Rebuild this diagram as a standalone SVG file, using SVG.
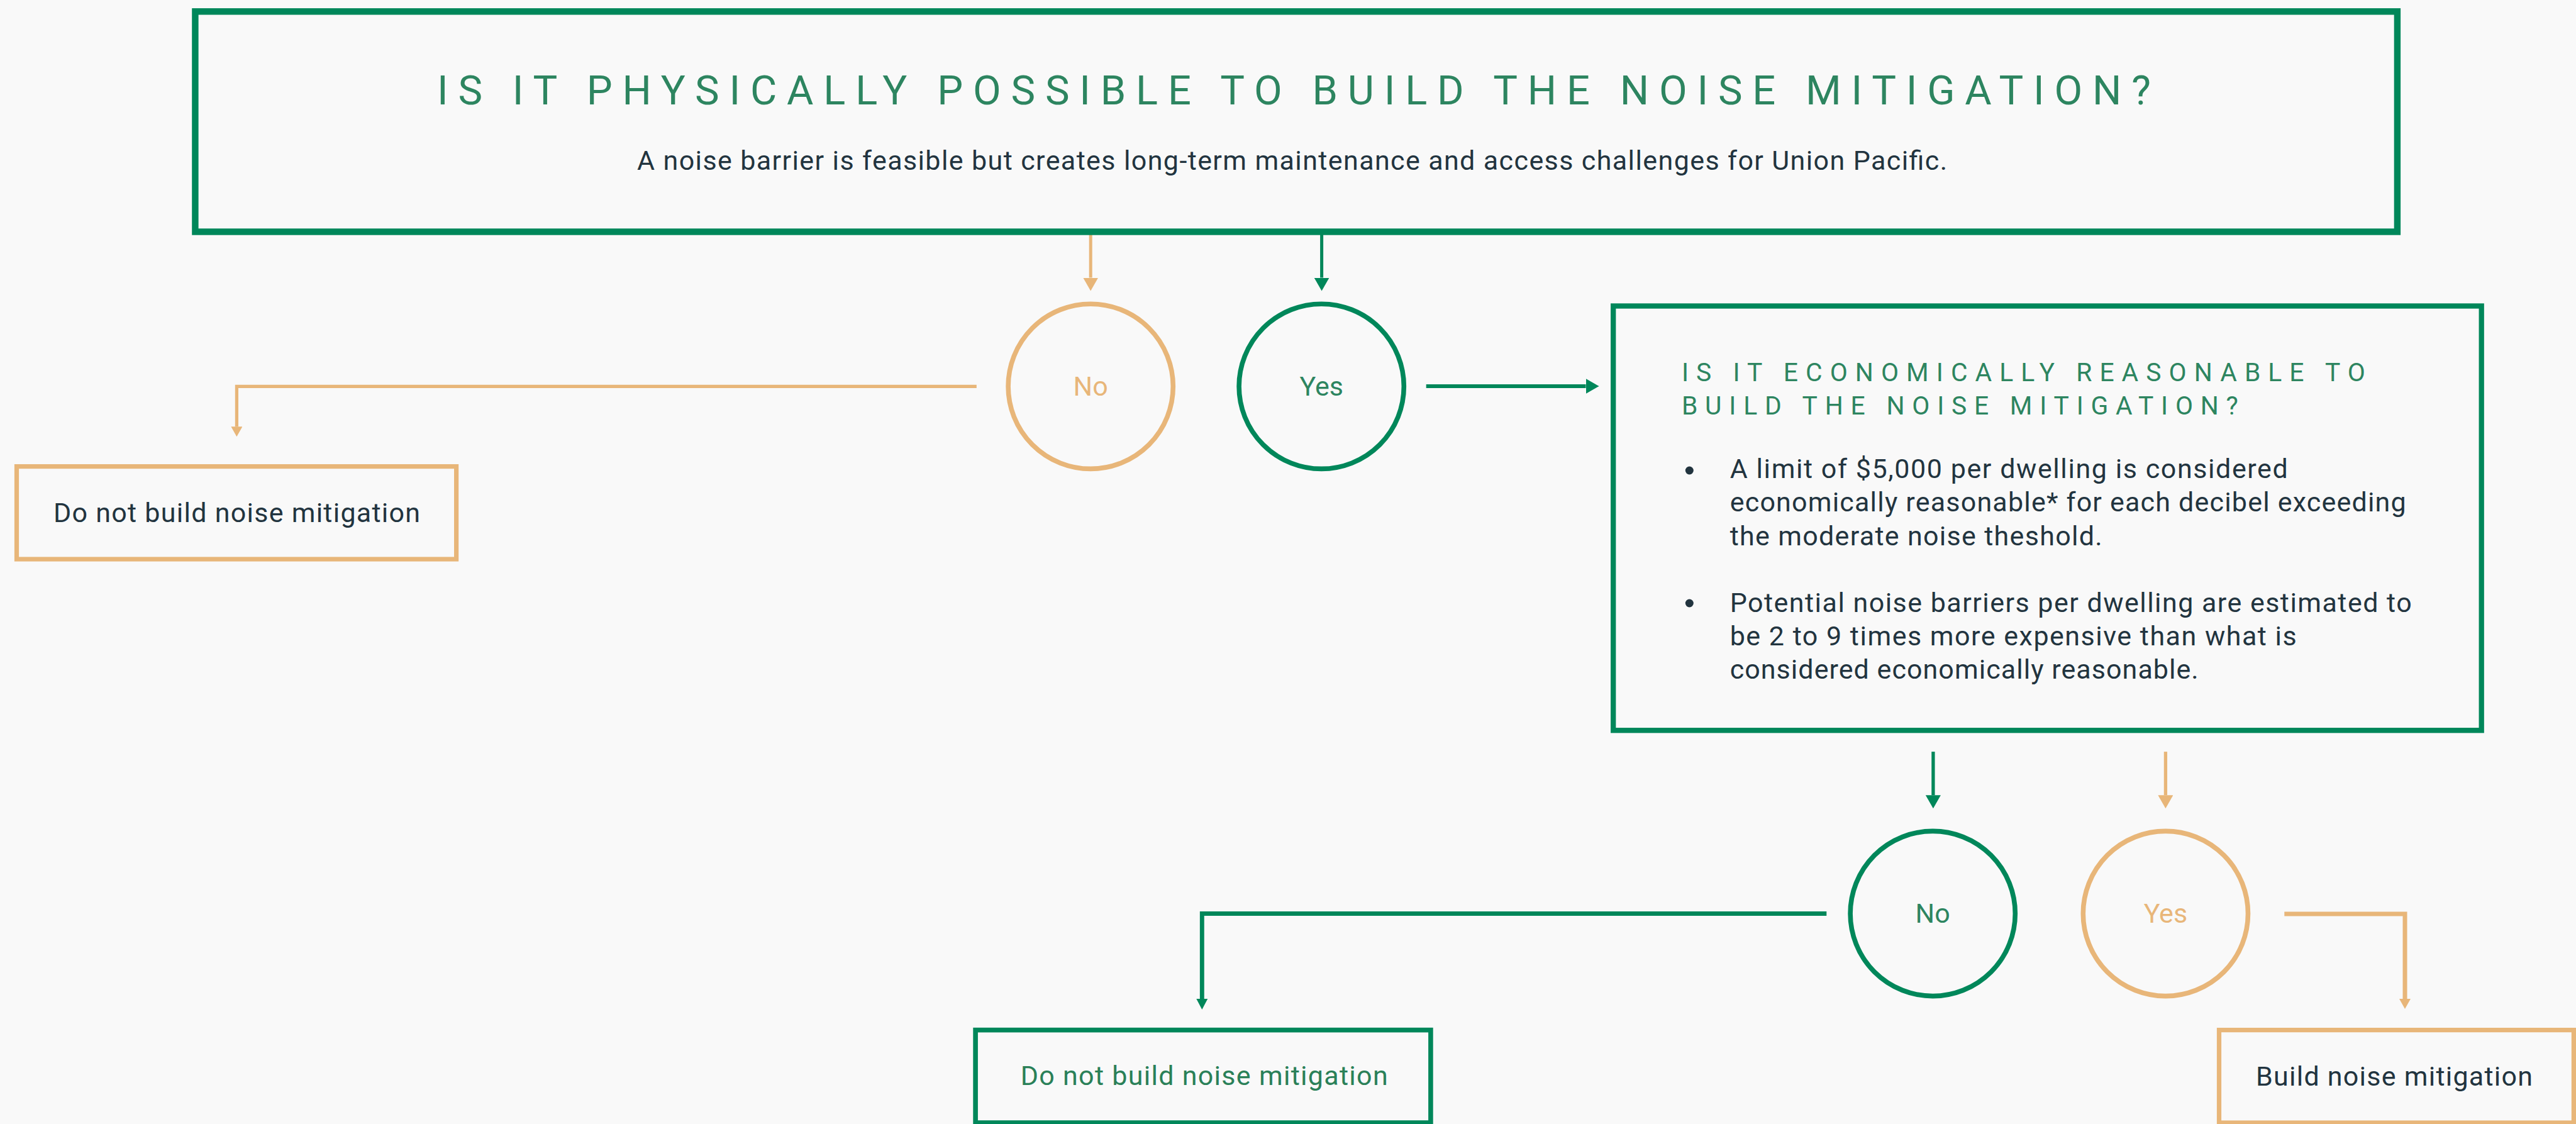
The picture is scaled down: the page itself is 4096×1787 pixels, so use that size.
<svg xmlns="http://www.w3.org/2000/svg" width="4096" height="1787" viewBox="0 0 4096 1787">
  <style>
    .bg { fill: #f9f9f9; }
    .box-g { fill: none; stroke: #00875a; }
    .box-o { fill: none; stroke: #e8b679; }
    .ring-g { fill: none; stroke: #00875a; stroke-width: 7.6; }
    .ring-o { fill: none; stroke: #e8b679; stroke-width: 7.6; }
    .t { font-family: Roboto, "Noto Sans", "Liberation Sans", sans-serif; font-weight: 400; }
    .head { fill: #2d8560; }
    .body { fill: #22343f; font-size: 43px; }
    .lbl { font-size: 43px; text-anchor: middle; }
    .lbl-g { fill: #2d8560; }
    .lbl-o { fill: #e8b679; }
    .out-g { fill: #2a8058; font-size: 43px; }
    .dot { fill: #22343f; }
    .ln-g { fill: none; stroke: #00875a; stroke-linejoin: miter; }
    .ln-o { fill: none; stroke: #e8b679; stroke-linejoin: miter; }
  </style>
  <defs>
    <marker id="arrow-g" markerUnits="userSpaceOnUse" markerWidth="21" markerHeight="24" refX="0" refY="12" orient="auto">
      <path d="M0,0 L21,12 L0,24 Z" fill="#00875a"/>
    </marker>
    <marker id="arrow-o" markerUnits="userSpaceOnUse" markerWidth="21" markerHeight="24" refX="0" refY="12" orient="auto">
      <path d="M0,0 L21,12 L0,24 Z" fill="#e8b679"/>
    </marker>
    <marker id="tip-g" markerUnits="userSpaceOnUse" markerWidth="17" markerHeight="18" refX="0" refY="9" orient="auto">
      <path d="M0,0 L17,9 L0,18 Z" fill="#00875a"/>
    </marker>
    <marker id="tip-o" markerUnits="userSpaceOnUse" markerWidth="16" markerHeight="18" refX="0" refY="9" orient="auto">
      <path d="M0,0 L16,9 L0,18 Z" fill="#e8b679"/>
    </marker>
  </defs>

  <rect class="bg" x="0" y="0" width="4096" height="1787"/>

  <!-- connectors -->
  <g id="connectors">
    <path class="ln-o" stroke-width="5" d="M1734.2,372 V441.5" marker-end="url(#arrow-o)"/>
    <path class="ln-g" stroke-width="5" d="M2101.6,372 V441.5" marker-end="url(#arrow-g)"/>
    <path class="ln-g" stroke-width="5.8" d="M2267.7,614 H2521.6" marker-end="url(#arrow-g)"/>
    <path class="ln-o" stroke-width="5.2" d="M1552.8,614.3 H376.4 V678.2" marker-end="url(#tip-o)"/>
    <path class="ln-g" stroke-width="5.3" d="M3073.9,1195.1 V1264.3" marker-end="url(#arrow-g)"/>
    <path class="ln-o" stroke-width="5.3" d="M3443.4,1195.1 V1264.3" marker-end="url(#arrow-o)"/>
    <path class="ln-g" stroke-width="6.9" d="M2904.3,1452.5 H1911.3 V1588" marker-end="url(#tip-g)"/>
    <path class="ln-o" stroke-width="7" d="M3632.3,1452.9 H3824 V1588" marker-end="url(#tip-o)"/>
  </g>

  <!-- question 1 -->
  <g id="q-physical">
    <rect class="box-g" stroke-width="10.4" x="310.4" y="18.3" width="3501.5" height="350.2"/>
    <text class="t head" x="695" y="166" font-size="65" textLength="2725">IS IT PHYSICALLY POSSIBLE TO BUILD THE NOISE MITIGATION?</text>
    <text class="t body" x="1013" y="270" textLength="2083">A noise barrier is feasible but creates long-term maintenance and access challenges for Union Pacific.</text>
  </g>

  <g id="q1-no">
    <circle class="ring-o" cx="1734.2" cy="614.3" r="131.1"/>
    <text class="t lbl lbl-o" x="1734.2" y="629">No</text>
  </g>

  <g id="q1-yes">
    <circle class="ring-g" cx="2101.2" cy="614.3" r="131.1"/>
    <text class="t lbl lbl-g" x="2101.2" y="629">Yes</text>
  </g>

  <g id="result-no-physical">
    <rect class="box-o" stroke-width="7.2" x="26.5" y="741.6" width="699.1" height="147.4"/>
    <text class="t body" x="85.1" y="829.7" textLength="583">Do not build noise mitigation</text>
  </g>

  <!-- question 2 -->
  <g id="q-economic">
    <rect class="box-g" stroke-width="8.3" x="2565.2" y="486.5" width="1380.5" height="674.7"/>
    <text class="t head" x="2673.9" y="606.2" font-size="40.8" textLength="1087">IS IT ECONOMICALLY REASONABLE TO</text>
    <text class="t head" x="2673.9" y="659.1" font-size="40.8" textLength="885">BUILD THE NOISE MITIGATION?</text>
    <circle class="dot" cx="2686.3" cy="748" r="6.5"/>
    <text class="t body" x="2750.7" y="760.2" textLength="887">A limit of $5,000 per dwelling is considered</text>
    <text class="t body" x="2750.7" y="813.4" textLength="1075">economically reasonable* for each decibel exceeding</text>
    <text class="t body" x="2750.7" y="866.7" textLength="592">the moderate noise theshold.</text>
    <circle class="dot" cx="2686.3" cy="959" r="6.5"/>
    <text class="t body" x="2750.7" y="973.4" textLength="1084">Potential noise barriers per dwelling are estimated to</text>
    <text class="t body" x="2750.7" y="1025.5" textLength="901">be 2 to 9 times more expensive than what is</text>
    <text class="t body" x="2750.7" y="1078.5" textLength="745">considered economically reasonable.</text>
  </g>

  <g id="q2-no">
    <circle class="ring-g" cx="3073.2" cy="1452.5" r="131.1"/>
    <text class="t lbl lbl-g" x="3073.2" y="1467">No</text>
  </g>

  <g id="q2-yes">
    <circle class="ring-o" cx="3443.4" cy="1452.5" r="131.1"/>
    <text class="t lbl lbl-o" x="3443.4" y="1467">Yes</text>
  </g>

  <g id="result-no-economic">
    <rect class="box-g" stroke-width="7.6" x="1551.1" y="1637.6" width="723.8" height="147.4"/>
    <text class="t out-g" x="1622.7" y="1724.5" textLength="584">Do not build noise mitigation</text>
  </g>

  <g id="result-build">
    <rect class="box-o" stroke-width="7.2" x="3528.5" y="1637.6" width="563.9" height="147.4"/>
    <text class="t body" x="3587" y="1725.9" textLength="440">Build noise mitigation</text>
  </g>
</svg>
